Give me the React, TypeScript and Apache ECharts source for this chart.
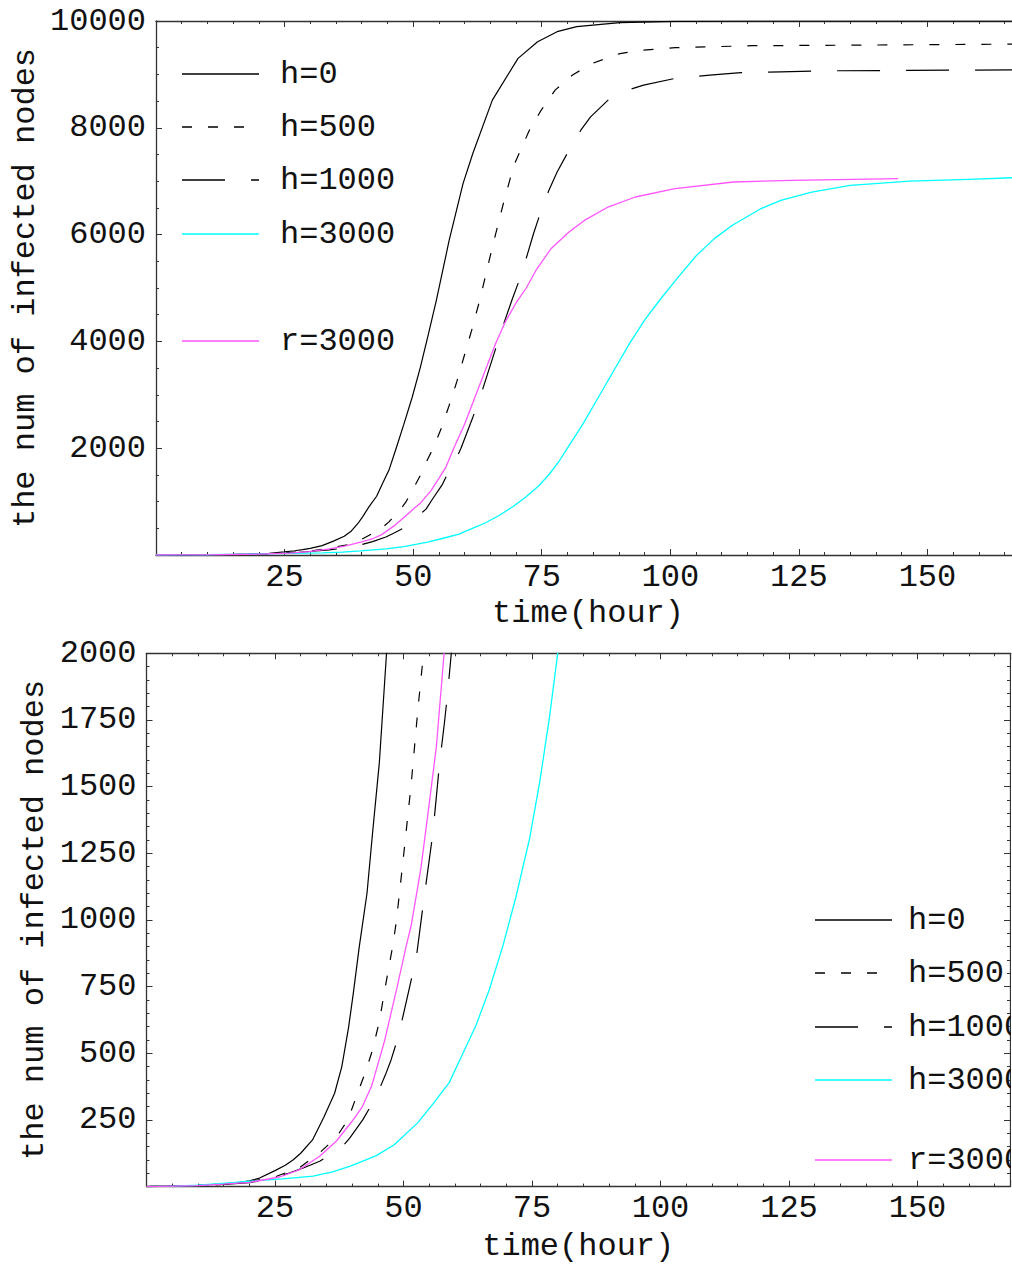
import React, { useEffect, useRef } from "react";
import * as echarts from "echarts";

// ---------- data (time in hours, number of infected nodes) ----------
const h0: [number, number][] = [
  [0, 0], [5, 2], [10, 5], [15, 10], [18, 15], [20, 22], [22, 32], [25, 60], [27, 80], [28.5, 100],
  [30, 125], [32.3, 175], [34.5, 260], [36.6, 350], [38, 450], [39.3, 595], [40.2, 720], [41.4, 900],
  [42.9, 1100], [44, 1330], [45.3, 1590], [46.7, 2000], [48.2, 2450], [49.8, 2950], [51.4, 3515],
  [53, 4150], [54.5, 4765], [57, 5890], [59.7, 6955], [61.6, 7518], [65.4, 8518], [70.4, 9300],
  [74.2, 9612], [78, 9800], [81.8, 9894], [90.2, 9969], [101, 9992], [115, 10000], [168, 10000],
];

const h500: [number, number][] = [
  [0, 0], [5, 2], [10, 5], [15, 9], [20, 18], [25.2, 38], [29.8, 71], [33.7, 127], [36.9, 184],
  [39.2, 251], [41.1, 352], [42.7, 435], [44, 514], [45.3, 620], [46.6, 764], [47.9, 902], [48.6, 993],
  [49.9, 1220], [51.5, 1510], [52.8, 1790], [53.9, 2000], [55.5, 2380], [57, 2800], [58.5, 3250],
  [60, 3750], [61.5, 4250], [63.1, 4830], [65.4, 5766], [67.7, 6642], [69.6, 7300], [72.6, 7955],
  [74.9, 8330], [77.6, 8705], [81, 8990], [84.8, 9205], [90.2, 9390], [94.8, 9456], [101, 9500],
  [116, 9537], [139, 9550], [168, 9568],
];

const h1000: [number, number][] = [
  [0, 0], [5, 2], [10, 4], [15, 8], [20, 15], [24, 28], [27.8, 51], [30.5, 70], [33.7, 95], [37.9, 145],
  [39.5, 181], [42.1, 251], [44.7, 338], [46.5, 420], [47.6, 476], [49, 563], [50.8, 715], [51.8, 800],
  [52.5, 860], [53.9, 1068], [55.7, 1323], [57, 1584], [58, 1745], [58.6, 1853], [59.3, 2000],
  [61.5, 2550], [63.5, 3100], [65.5, 3700], [67.5, 4300], [69.3, 4800], [71.1, 5266], [73.4, 6016],
  [74.9, 6454], [76.4, 6829], [78, 7173], [80.3, 7580], [82.6, 7955], [84.5, 8205], [87.9, 8518],
  [90.6, 8674], [94.8, 8799], [100.9, 8925], [107.7, 8987], [113.1, 9030], [121.5, 9049],
  [131.4, 9068], [146.6, 9075], [168, 9085],
];

const h3000: [number, number][] = [
  [0, 0], [5, 2], [10, 5], [16.8, 15], [20, 20], [26.5, 29], [32.4, 39], [36.2, 55], [39.8, 78],
  [43.4, 106], [44.7, 116], [48.2, 157], [52.8, 240], [55.7, 309], [58.9, 390], [61.5, 497],
  [64.1, 604], [66.7, 739], [69.3, 900], [71.9, 1088], [74.5, 1302], [76.5, 1517], [78.4, 1760],
  [80, 2000], [83, 2450], [86, 2950], [89, 3450], [92, 3950], [95, 4400], [98, 4780], [101.5, 5200],
  [105, 5600], [108.5, 5920], [112, 6170], [117.5, 6480], [121.5, 6640], [127.5, 6797], [135, 6923],
  [146.6, 7000], [158, 7036], [168, 7070],
];

const r3000: [number, number][] = [
  [0, 0], [5, 2], [10, 4], [15, 9], [20, 16], [25.9, 36], [29.8, 64], [33.7, 114], [36.9, 170],
  [40, 245], [42, 300], [43.8, 377], [46.3, 545], [48.8, 752], [50.5, 900], [51.5, 980], [53.4, 1195],
  [55.1, 1450], [56.4, 1651], [57.9, 2000], [60, 2450], [62, 2950], [64, 3450], [66, 3950],
  [68, 4380], [70, 4720], [72, 5000], [74, 5350], [76.8, 5735], [80.3, 6047], [83.3, 6266],
  [87.9, 6516], [93.2, 6704], [100.9, 6861], [112.3, 6985], [123.7, 7017], [144.3, 7048],
];

const seriesNames = ["h=0", "h=500", "h=1000", "h=3000", "r=3000"];
const seriesData = [h0, h500, h1000, h3000, r3000];

const xMax = 168;
const xMajor = 25;
const xMinor = 5;
const topYMax = 10000;
const topYMajor = 2000;
const topYMinor = 500;
const botYMax = 2000;
const botYMajor = 250;
const botYMinor = 50;

const xName = "time(hour)";
const yName = "the num of infected nodes";

// ---------- styles ----------
const FONT = '"Liberation Mono", "Courier New", monospace';
const FS = 32;
const TXT = "#111";
const AX = "#333";
const seriesStyle = [
  { color: "#000000", dash: "solid" as any, width: 1.2 },
  { color: "#000000", dash: [10, 16], width: 1.2 },
  { color: "#000000", dash: [43, 26], width: 1.2 },
  { color: "#00ffff", dash: "solid" as any, width: 1.3 },
  { color: "#ff55ff", dash: "solid" as any, width: 1.3 },
];

function xAxes(grid: number, nameGap: number) {
  const line = { show: true, onZero: false, lineStyle: { color: AX, width: 1.3 } };
  const base = {
    type: "value", gridIndex: grid, min: 0, max: xMax, splitLine: { show: false }, nameMoveOverlap: false,
  };
  return [
    {
      ...base, position: "bottom", interval: xMajor, axisLine: line,
      axisTick: { show: true, inside: true, length: 6, lineStyle: { color: AX, width: 1 } },
      axisLabel: {
        show: true, margin: 6, color: TXT, fontFamily: FONT, fontSize: FS,
        formatter: (v: number) => (v > 0 && v % xMajor === 0 ? String(v) : ""),
      },
      name: xName, nameLocation: "middle", nameGap,
      nameTextStyle: { color: TXT, fontFamily: FONT, fontSize: FS },
    },
    {
      ...base, position: "bottom", interval: xMinor, axisLine: { show: false, onZero: false },
      axisTick: { show: true, inside: true, length: 3, lineStyle: { color: AX, width: 1 } },
      axisLabel: { show: false },
    },
    {
      ...base, position: "top", interval: xMajor, axisLine: line,
      axisTick: { show: true, inside: true, length: 6, lineStyle: { color: AX, width: 1 } },
      axisLabel: { show: false },
    },
    {
      ...base, position: "top", interval: xMinor, axisLine: { show: false, onZero: false },
      axisTick: { show: true, inside: true, length: 3, lineStyle: { color: AX, width: 1 } },
      axisLabel: { show: false },
    },
  ];
}

function yAxes(grid: number, max: number, major: number, minor: number, nameGap: number, right: boolean) {
  const line = { show: true, onZero: false, lineStyle: { color: AX, width: 1.3 } };
  const base = {
    type: "value", gridIndex: grid, min: 0, max, splitLine: { show: false }, nameMoveOverlap: false,
  };
  const axes: any[] = [
    {
      ...base, position: "left", interval: major, axisLine: line,
      axisTick: { show: true, inside: true, length: 6, lineStyle: { color: AX, width: 1 } },
      axisLabel: {
        show: true, margin: 10, color: TXT, fontFamily: FONT, fontSize: FS,
        formatter: (v: number) => (v > 0 && v % major === 0 ? String(v) : ""),
      },
      name: yName, nameLocation: "middle", nameGap,
      nameTextStyle: { color: TXT, fontFamily: FONT, fontSize: FS },
    },
    {
      ...base, position: "left", interval: minor, axisLine: { show: false, onZero: false },
      axisTick: { show: true, inside: true, length: 3, lineStyle: { color: AX, width: 1 } },
      axisLabel: { show: false },
    },
  ];
  if (right) {
    axes.push(
      {
        ...base, position: "right", interval: major, axisLine: line,
        axisTick: { show: true, inside: true, length: 6, lineStyle: { color: AX, width: 1 } },
        axisLabel: { show: false },
      },
      {
        ...base, position: "right", interval: minor, axisLine: { show: false, onZero: false },
        axisTick: { show: true, inside: true, length: 3, lineStyle: { color: AX, width: 1 } },
        axisLabel: { show: false },
      }
    );
  }
  return axes;
}

function legend(x1: number, x2: number, tx: number, rows: number[]) {
  const els: any[] = [];
  seriesNames.forEach((n, i) => {
    const s = seriesStyle[i];
    els.push({
      type: "line",
      shape: { x1, y1: rows[i], x2, y2: rows[i] },
      style: { stroke: s.color, lineWidth: 1.3, lineDash: Array.isArray(s.dash) ? s.dash : null },
      z: 50,
    });
    els.push({
      type: "text",
      x: tx,
      y: rows[i],
      style: { text: n, fill: TXT, fontFamily: FONT, fontSize: FS, verticalAlign: "middle", align: "left" },
      z: 50,
    });
  });
  return els;
}

export default function App() {
  const ref = useRef<HTMLDivElement>(null);
  useEffect(() => {
    if (!ref.current) return;
    const chart = echarts.init(ref.current, null, { renderer: "svg" });
    const series: any[] = [];
    [0, 1].forEach((g) => {
      seriesData.forEach((d, i) => {
        const s = seriesStyle[i];
        series.push({
          type: "line",
          name: seriesNames[i],
          xAxisIndex: g * 4,
          yAxisIndex: g === 0 ? 0 : 2,
          data: d,
          showSymbol: false,
          symbol: "none",
          clip: true,
          lineStyle: { color: s.color, width: s.width, type: s.dash },
          z: i === 4 ? 3 : 2,
        });
      });
    });
    chart.setOption({
      animation: false,
      backgroundColor: "#fff",
      grid: [
        { left: 156, top: 21, width: 864, height: 534, containLabel: false, outerBoundsMode: "none" },
        { left: 146.5, top: 653.3, width: 863.5, height: 533.3, containLabel: false, outerBoundsMode: "none" },
      ],
      xAxis: [...xAxes(0, 42), ...xAxes(1, 44)],
      yAxis: [
        ...yAxes(0, topYMax, topYMajor, topYMinor, 115, false),
        ...yAxes(1, botYMax, botYMajor, botYMinor, 96, true),
      ],
      series,
      graphic: [
        ...legend(182, 259, 280, [74, 127, 180, 234, 341]),
        ...legend(815, 892, 908, [920, 973, 1027, 1080, 1160]),
        { type: "rect", shape: { x: 1011, y: 660, width: 20, height: 520 }, style: { fill: "#fff" }, z: 60 },
      ],
    });
    return () => chart.dispose();
  }, []);
  return (
    <div
      ref={ref}
      style={{ position: "absolute", left: 0, top: 0, width: 1012, height: 1266, background: "#fff" }}
    />
  );
}
